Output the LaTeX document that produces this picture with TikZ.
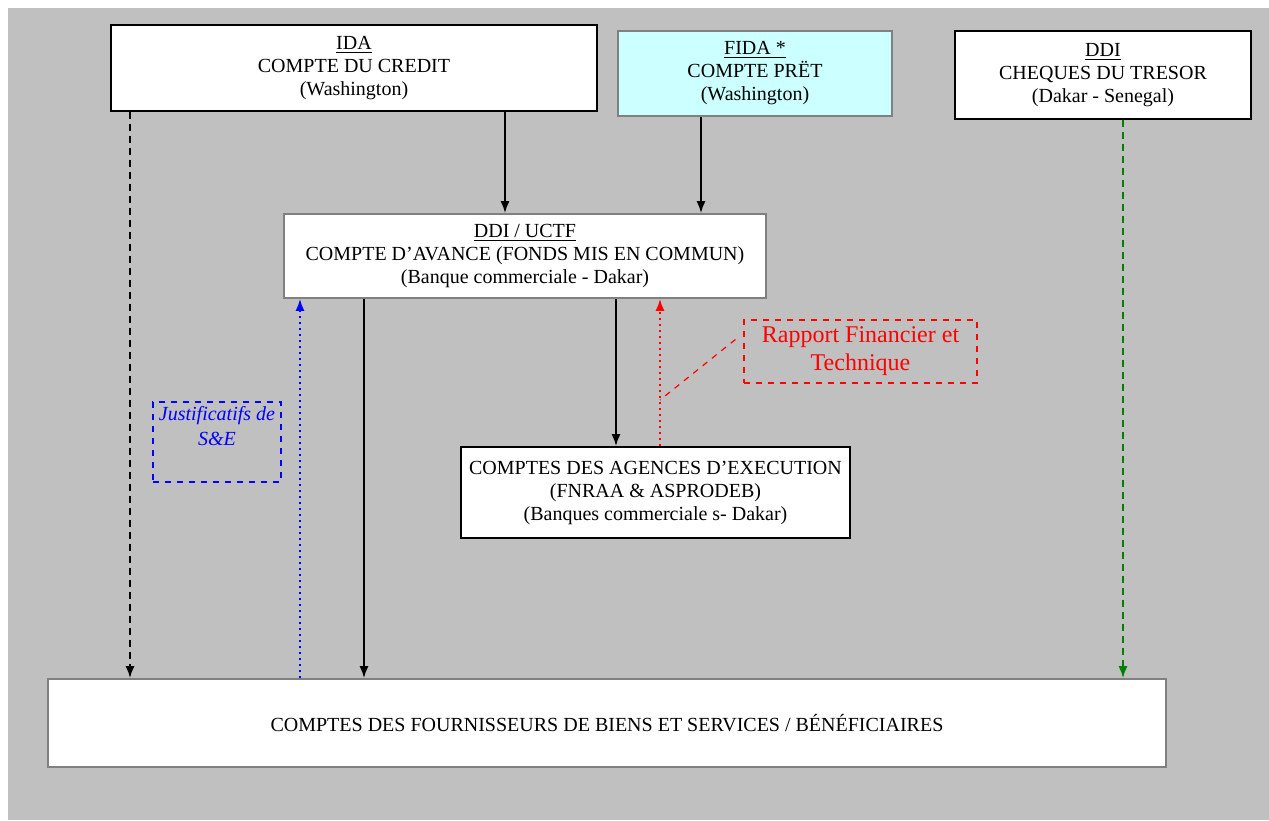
\documentclass[tikz,border=0pt]{standalone}
\usepackage{fontspec}
\setmainfont{Liberation Serif}
\usetikzlibrary{arrows.meta, positioning, calc}
\definecolor{bggray}{RGB}{192,192,192}
\definecolor{paleblue}{RGB}{204,255,255}
\definecolor{darkgreen}{RGB}{0,128,0}

\begin{document}
\begin{tikzpicture}[x = 0.5pt, y = -0.5pt]
        \tikzstyle{acct} = [rectangle, draw = black, line width = 0.8pt, fill = white, align = center, inner sep = 0pt, font = \fontsize{10}{11.5}\selectfont]
        \tikzstyle{soft} = [acct, draw = black!50]
        \tikzstyle{note} = [rectangle, dashed, line width = 0.6pt, align = center, inner sep = 1pt]
        \tikzstyle{connect} = [-{Latex[length = 6pt, width = 4.5pt]}, line width = 1pt]
        \tikzstyle{dashflow} = [dash pattern = on 3.5pt off 2.5pt]
        \useasboundingbox (0,0) rectangle (1269,820);
        \fill[bggray] (8,8) rectangle (1269,820);
        \node[acct, minimum width = 243pt, minimum height = 43pt] (ida) at (354,68) {\underline{IDA}\\COMPTE DU CREDIT\\(Washington)};
        \node[soft, fill = paleblue, minimum width = 137pt, minimum height = 42.5pt] (fida) at (755,73.5) {\underline{FIDA *}\\COMPTE PRËT\\(Washington)};
        \node[acct, minimum width = 148pt, minimum height = 44pt] (ddi) at (1103,75) {\underline{DDI}\\CHEQUES DU TRESOR\\(Dakar - Senegal)};
        \node[soft, minimum width = 241pt, minimum height = 42pt] (uctf) at (525,256) {\underline{DDI / UCTF}\\COMPTE D’AVANCE (FONDS MIS EN COMMUN)\\(Banque commerciale - Dakar)};
        \node[acct, minimum width = 194.5pt, minimum height = 45.5pt] (agences) at (655.5,492.5) {COMPTES DES AGENCES D’EXECUTION\\(FNRAA \& ASPRODEB)\\(Banques commerciale s- Dakar)};
        \node[soft, minimum width = 559pt, minimum height = 44pt] (fourn) at (607,723) {COMPTES DES FOURNISSEURS DE BIENS ET SERVICES / BÉNÉFICIAIRES};
        \node[note, draw = blue, text = blue, font = \itshape\fontsize{10}{12.5}\selectfont, minimum width = 64pt, minimum height = 40pt] (justif) at (217,442) {Justificatifs de\\S\&E\\\strut};
        \node[note, draw = red, text = red, font = \fontsize{12}{14}\selectfont, minimum width = 116.5pt, minimum height = 31.5pt] (rapport) at (860.5,351.5) {Rapport Financier et\\Technique};
        % flux de fonds
        \draw[connect] (505,0 |- ida.south) -- (505,0 |- uctf.north);
        \draw[connect] (701,0 |- fida.south) -- (701,0 |- uctf.north);
        \draw[connect, dashflow] (130,0 |- ida.south) -- (130,0 |- fourn.north);
        \draw[connect, dashflow, darkgreen] (1123,0 |- ddi.south) -- (1123,0 |- fourn.north);
        \draw[connect] (364,0 |- uctf.south) -- (364,0 |- fourn.north);
        \draw[connect] (616,0 |- uctf.south) -- (616,0 |- agences.north);
        % justificatifs et rapports
        \draw[connect, blue, dotted] (300,0 |- fourn.north) -- (300,0 |- uctf.south);
        \draw[connect, red, dotted] (660,0 |- agences.north) -- (660,0 |- uctf.south);
        \coordinate (rapfoot) at (660,400);
        \draw[red, dashed, line width = 0.6pt] ($(rapport.west) + (-8,-12)$) -- (rapfoot);
      \end{tikzpicture}
\end{document}
